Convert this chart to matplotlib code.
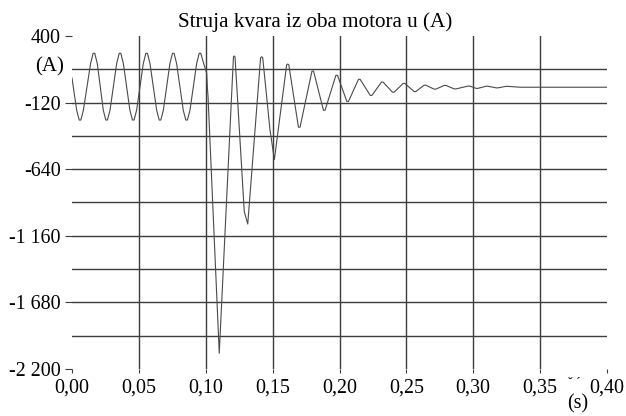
import matplotlib
matplotlib.use("Agg")
import matplotlib.pyplot as plt
from matplotlib.ticker import FixedLocator

plt.rcParams['font.family'] = ['Liberation Serif', 'DejaVu Serif']

# Fault current of both motors (A) over time (s)
time_s = [
    0.0000, 0.0035, 0.0054, 0.0066, 0.0085,
    0.0139, 0.0158, 0.0170, 0.0189,
    0.0234, 0.0253, 0.0265, 0.0284,
    0.0334, 0.0353, 0.0365, 0.0384,
    0.0433, 0.0452, 0.0464, 0.0483,
    0.0533, 0.0552, 0.0564, 0.0583,
    0.0633, 0.0652, 0.0664, 0.0683,
    0.0732, 0.0751, 0.0763, 0.0782,
    0.0832, 0.0851, 0.0863, 0.0882,
    0.0932, 0.0951, 0.0963, 0.0983,
    0.1007, 0.1012, 0.1017, 0.1101,
    0.1207, 0.1213, 0.1219,
    0.1288, 0.1314,
    0.1410, 0.1418, 0.1426,
    0.1480, 0.1513,
    0.1605, 0.1613, 0.1621,
    0.1693, 0.1705,
    0.1794, 0.1806,
    0.1880, 0.1892,
    0.1973, 0.1985,
    0.2055, 0.2067,
    0.2142, 0.2154,
    0.2230, 0.2242,
    0.2314, 0.2326,
    0.2396, 0.2408,
    0.2476, 0.2488,
    0.2558, 0.2570,
    0.2633, 0.2645,
    0.2708, 0.2720,
    0.2783, 0.2795,
    0.2858, 0.2870,
    0.2962, 0.2974,
    0.3022, 0.3034,
    0.3097, 0.3109,
    0.3172, 0.3184,
    0.3246, 0.3258,
    0.3350, 0.4000,
]
current_a = [
    72, -180, -256, -256, -180,
    185, 265, 265, 185,
    -180, -256, -256, -180,
    185, 265, 265, 185,
    -180, -256, -256, -180,
    185, 265, 265, 185,
    -180, -256, -256, -180,
    185, 265, 265, 185,
    -180, -256, -256, -180,
    185, 265, 265, 190,
    111, 0, -70, -2077,
    236, 244, 236,
    -972, -1068,
    230, 238, 230,
    -330, -565,
    175, 181, 175,
    -312, -312,
    126, 126,
    -180, -180,
    93, 93,
    -111, -111,
    62, 62,
    -64, -64,
    40, 40,
    -39, -39,
    30, 30,
    -34, -34,
    16, 16,
    -15, -15,
    14, 14,
    -13, -13,
    9, 9,
    -9, -9,
    8, 8,
    -5, -5,
    7, 7,
    0, 0,
]

y_ticks = [400, -120, -640, -1160, -1680, -2200]
y_tick_labels = ["400", "-120", "-640", "-1 160", "-1 680", "-2 200"]
y_grid = [140, -120, -380, -640, -900, -1160, -1420, -1680, -1940]
x_ticks = [0.00, 0.05, 0.10, 0.15, 0.20, 0.25, 0.30, 0.35, 0.40]
x_tick_labels = ["0,00", "0,05", "0,10", "0,15", "0,20", "0,25", "0,30", "0,35", "0,40"]
x_grid = [0.05, 0.10, 0.15, 0.20, 0.25, 0.30, 0.35]

title = "Struja kvara iz oba motora u (A)"
y_unit = "(A)"
x_unit = "(s)"

fig = plt.figure(figsize=(6.26, 4.16), dpi=100)
ax = fig.add_axes([72 / 626, 1 - 369 / 416, (607 - 72) / 626, (369 - 36) / 416])

ax.set_xlim(0.0, 0.40)
ax.set_ylim(-2200, 400)

grid_kw = dict(color="#3c3c3c", lw=1.0, zorder=1)
for yv in y_grid:
    ax.axhline(yv, **grid_kw)
for xv in x_grid:
    ax.axvline(xv, **grid_kw)

ax.plot(time_s, current_a, color="#4a4a4a", lw=0.8, zorder=2)

for side in ["top", "right", "left", "bottom"]:
    ax.spines[side].set_visible(False)

ax.yaxis.set_major_locator(FixedLocator(y_ticks))
ax.set_yticklabels(y_tick_labels)
ax.xaxis.set_major_locator(FixedLocator(x_ticks))
ax.set_xticklabels(x_tick_labels)
ax.tick_params(axis="y", direction="out", length=5, width=0.8, color="#3c3c3c",
               pad=3, labelsize=14.4)
ax.tick_params(axis="x", direction="out", length=3, width=0.8, color="#3c3c3c",
               pad=4, labelsize=14.4)
for lbl in ax.get_yticklabels():
    lbl.set_va("center_baseline")

fig.text(315 / 626, 1 - 22 / 416, title, ha="center", va="center", fontsize=15.2)
fig.text(50 / 626, 1 - 67 / 416, y_unit, ha="center", va="center", fontsize=15)
fig.text(578 / 626, 1 - 404 / 416, x_unit, ha="center", va="center", fontsize=14.4)
fig.text(574 / 626, 1 - 387 / 416, "ˇ ´", ha="center", va="baseline", fontsize=10)

fig.savefig("out.png", dpi=100)
